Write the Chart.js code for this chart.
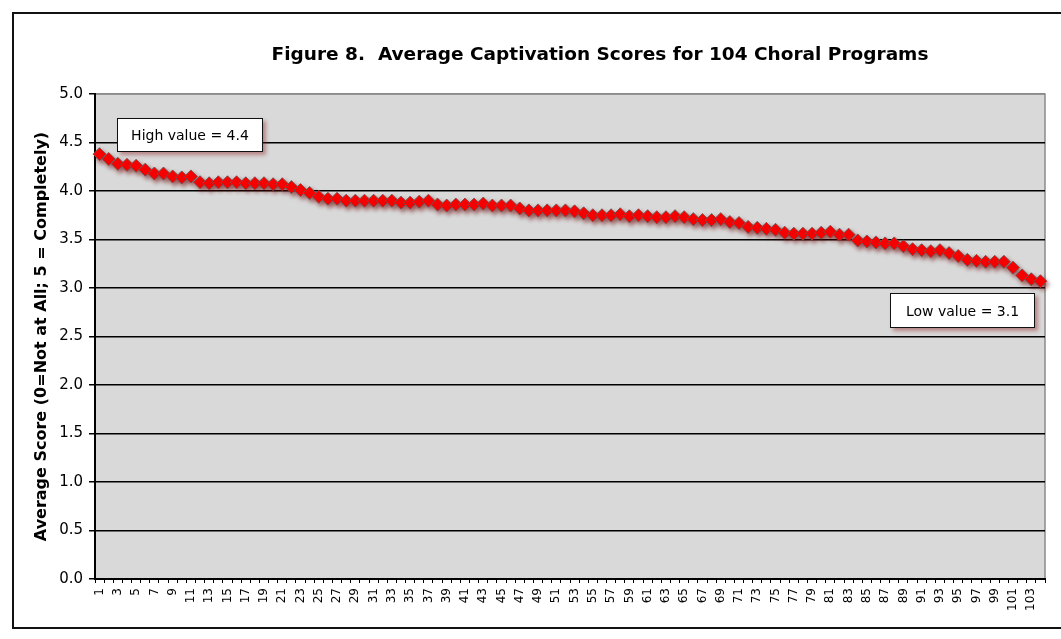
<!DOCTYPE html>
<html>
<head>
<meta charset="utf-8">
<script src="https://cdn.jsdelivr.net/npm/chart.js@4/dist/chart.umd.min.js"></script>
<style>
  body { margin: 0; background: #fff; overflow: hidden; width: 1061px; height: 639px; position: relative; }
  #frame { position: absolute; left: 12px; top: 12px; width: 1200px; height: 613px; border: 2px solid #111; }
  #chart { position: absolute; left: 0; top: 0; }
  .note {
    position: absolute; background: #fff; border: 1.5px solid #111;
    font: 14px "DejaVu Sans", sans-serif; color: #000;
    display: flex; align-items: center; justify-content: center;
    box-shadow: 3px 3px 4px rgba(140, 30, 30, 0.45);
    box-sizing: border-box;
  }
</style>
</head>
<body>
<div id="frame"></div>
<canvas id="chart" width="1200" height="639"></canvas>
<div class="note" style="left:117px; top:118px; width:146px; height:34px;">High value = 4.4</div>
<div class="note" style="left:890px; top:293px; width:145px; height:35px;">Low value = 3.1</div>
<script>
// program rank (1 = highest score)
const programs = [
  '1','2','3','4','5','6','7','8','9','10','11','12','13','14','15','16','17','18','19','20',
  '21','22','23','24','25','26','27','28','29','30','31','32','33','34','35','36','37','38','39','40',
  '41','42','43','44','45','46','47','48','49','50','51','52','53','54','55','56','57','58','59','60',
  '61','62','63','64','65','66','67','68','69','70','71','72','73','74','75','76','77','78','79','80',
  '81','82','83','84','85','86','87','88','89','90','91','92','93','94','95','96','97','98','99','100',
  '101','102','103','104'
];

// average captivation score per program
const scores = [
  4.38, 4.33, 4.28, 4.27, 4.26, 4.22, 4.18, 4.18, 4.15, 4.14,
  4.15, 4.09, 4.08, 4.09, 4.09, 4.09, 4.08, 4.08, 4.08, 4.07,
  4.07, 4.04, 4.01, 3.98, 3.94, 3.92, 3.92, 3.90, 3.90, 3.90,
  3.90, 3.90, 3.90, 3.88, 3.88, 3.89, 3.90, 3.86, 3.85, 3.86,
  3.86, 3.86, 3.87, 3.85, 3.85, 3.85, 3.82, 3.80, 3.80, 3.80,
  3.80, 3.80, 3.79, 3.77, 3.75, 3.75, 3.75, 3.76, 3.74, 3.75,
  3.74, 3.73, 3.73, 3.74, 3.73, 3.71, 3.70, 3.70, 3.71, 3.68,
  3.67, 3.63, 3.62, 3.61, 3.60, 3.57, 3.56, 3.56, 3.56, 3.57,
  3.58, 3.55, 3.55, 3.49, 3.48, 3.47, 3.46, 3.46, 3.43, 3.40,
  3.39, 3.38, 3.39, 3.36, 3.33, 3.29, 3.28, 3.27, 3.27, 3.27,
  3.21, 3.13, 3.09, 3.07
];

const yMin = 0;
const yMax = 5;
const yStep = 0.5;

const titleText = 'Figure 8.  Average Captivation Scores for 104 Choral Programs';
const yTitle = 'Average Score (0=Not at All; 5 = Completely)';

// gray plot background + thin gray frame
const plotBg = {
  id: 'plotBg',
  beforeDraw(chart) {
    const { ctx, chartArea: a } = chart;
    ctx.save();
    ctx.fillStyle = '#d9d9d9';
    ctx.fillRect(a.left, a.top, a.right - a.left, a.bottom - a.top);
    ctx.strokeStyle = '#8a8a8a';
    ctx.lineWidth = 1.5;
    ctx.strokeRect(a.left, a.top, a.right - a.left, a.bottom - a.top);
    ctx.restore();
  }
};

// soft red drop shadow under the diamonds
const markerShadow = {
  id: 'markerShadow',
  beforeDatasetDraw(chart) {
    const c = chart.ctx;
    c.save();
    c.shadowColor = 'rgba(110, 0, 0, 0.55)';
    c.shadowBlur = 4;
    c.shadowOffsetX = 2;
    c.shadowOffsetY = 3;
  },
  afterDatasetDraw(chart) {
    chart.ctx.restore();
  }
};

new Chart(document.getElementById('chart'), {
  type: 'line',
  data: {
    labels: programs,
    datasets: [{
      data: scores,
      showLine: false,
      pointStyle: 'rectRot',
      pointRadius: 6.5,
      pointBackgroundColor: '#ff0000',
      pointBorderColor: 'rgba(120, 80, 80, 0.9)',
      pointBorderWidth: 1,
      clip: false
    }]
  },
  options: {
    responsive: false,
    animation: false,
    layout: { padding: { top: 44, left: 0, right: 0, bottom: 0 } },
    plugins: {
      legend: { display: false },
      tooltip: { enabled: false },
      title: {
        display: true,
        text: titleText,
        color: '#000',
        font: { family: 'DejaVu Sans', size: 18.5, weight: 'bold' },
        padding: { top: 0, bottom: 27.8 }
      }
    },
    scales: {
      x: {
        type: 'category',
        offset: true,
        grid: { display: true, drawOnChartArea: false, drawTicks: true, tickLength: 4, color: '#000', offset: true },
        border: { color: '#000', width: 2 },
        ticks: {
          autoSkip: false,
          minRotation: 90,
          maxRotation: 90,
          padding: 5,
          color: '#000',
          font: { family: 'DejaVu Sans', size: 12 },
          callback: (v, i) => (i % 2 === 0 ? programs[i] : '')
        },
        afterFit(s) { s.height = 60; }
      },
      y: {
        min: yMin,
        max: yMax,
        grid: {
          color: ctx => (ctx.tick && ctx.tick.value === yMax ? '#8a8a8a' : '#000'),
          tickColor: '#000',
          lineWidth: 1.5,
          tickLength: 6
        },
        border: { color: '#000', width: 2 },
        ticks: {
          stepSize: yStep,
          padding: 6,
          color: '#000',
          font: { family: 'DejaVu Sans', size: 15 },
          callback: v => v.toFixed(1)
        },
        title: {
          display: true,
          text: yTitle,
          color: '#000',
          font: { family: 'DejaVu Sans', size: 16, weight: 'bold' },
          padding: { top: 32, bottom: 0 }
        },
        afterFit(s) { s.width = 95; }
      },
      pad: {
        type: 'linear',
        position: 'right',
        display: true,
        grid: { display: false },
        border: { display: false },
        ticks: { display: false },
        afterFit(s) { s.width = 155; }
      }
    }
  },
  plugins: [plotBg, markerShadow]
});
</script>
</body>
</html>
